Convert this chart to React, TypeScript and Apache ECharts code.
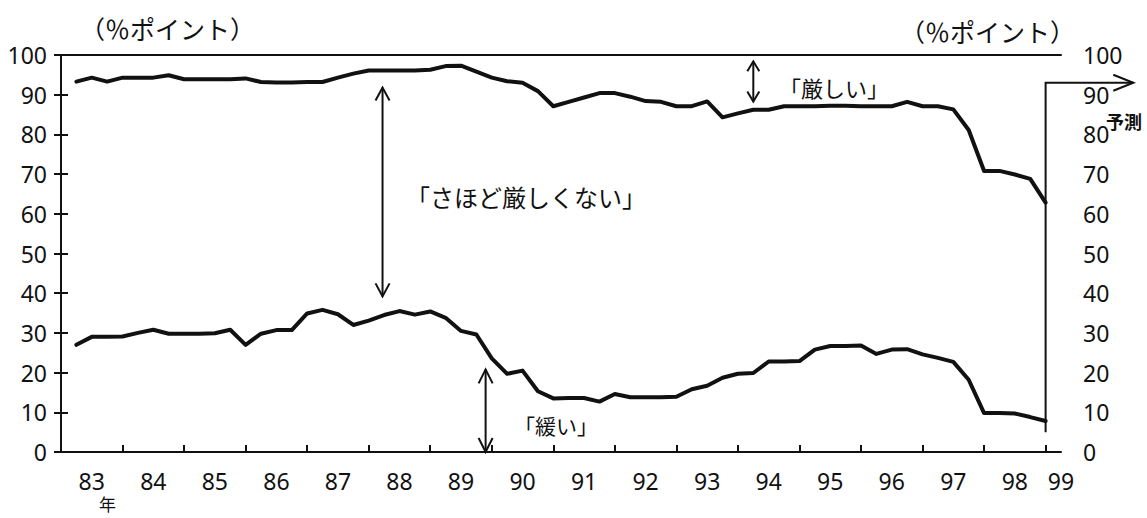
import { useEffect, useRef } from "react";
import * as echarts from "echarts";

// Quarterly survey, 1983Q1 .. 1998Q4 (64 quarters), share in %
const yearLabels = ["83", "84", "85", "86", "87", "88", "89", "90", "91", "92", "93", "94", "95", "96", "97", "98"];
const endLabel = "99";

// upper line: 100 - "厳しい"
const upperLine = [
  93.3, 94.3, 93.3, 94.3, 94.3, 94.3, 94.9, 93.9,
  93.9, 93.9, 93.9, 94.1, 93.2, 93.1, 93.1, 93.2,
  93.2, 94.3, 95.3, 96.1, 96.1, 96.1, 96.1, 96.3,
  97.2, 97.3, 95.8, 94.3, 93.4, 93.0, 90.9, 87.1,
  88.2, 89.3, 90.4, 90.4, 89.5, 88.4, 88.2, 87.1,
  87.1, 88.3, 84.3, 85.3, 86.2, 86.2, 87.1, 87.1,
  87.1, 87.2, 87.2, 87.1, 87.1, 87.1, 88.2, 87.1,
  87.1, 86.3, 81.1, 70.8, 70.8, 69.9, 68.8, 62.8,
];

// lower line: "緩い"
const lowerLine = [
  27.0, 29.0, 29.0, 29.1, 30.0, 30.8, 29.8, 29.8,
  29.8, 29.9, 30.8, 27.0, 29.8, 30.7, 30.7, 34.9,
  35.8, 34.7, 32.0, 33.1, 34.5, 35.5, 34.6, 35.4,
  33.8, 30.5, 29.6, 23.6, 19.7, 20.5, 15.3, 13.5,
  13.6, 13.6, 12.7, 14.6, 13.8, 13.8, 13.8, 13.9,
  15.8, 16.7, 18.7, 19.7, 19.9, 22.8, 22.8, 22.9,
  25.8, 26.7, 26.7, 26.8, 24.7, 25.8, 25.9, 24.6,
  23.7, 22.7, 18.2, 9.8, 9.8, 9.7, 8.8, 7.8,
];

const unitLabel = "（％ポイント）";
const labelHarsh = "「厳しい」";
const labelMid = "「さほど厳しくない」";
const labelEasy = "「緩い」";
const labelForecast = "予測";
const labelYear = "年";

const JP_FONT = "Noto Sans CJK JP";
const NUM_FONT = "Noto Sans";
const INK = "#111111";

export default function App() {
  const ref = useRef<HTMLDivElement>(null);

  useEffect(() => {
    if (!ref.current) return;
    const chart = echarts.init(ref.current, null, { renderer: "svg" });

    const nQ = upperLine.length; // 64
    const xMax = nQ + 1; // right axis sits one quarter after the last point
    const tickPos = yearLabels.map((_, i) => (i + 1) * 4);
    const labelPos = yearLabels.map((_, i) => i * 4 + 2).concat([xMax]);
    const labelText: Record<string, string> = {};
    yearLabels.forEach((y, i) => (labelText[String(i * 4 + 2)] = y));
    labelText[String(xMax)] = endLabel;

    const axisLineStyle = { color: INK, width: 2 };
    const numText = { fontSize: 23, fontFamily: NUM_FONT, color: INK };

    chart.setOption({
      animation: false,
      backgroundColor: "#ffffff",
      grid: {
        left: 61,
        right: 86,
        top: 55,
        bottom: 66,
        containLabel: false,
        outerBoundsMode: "none",
      },
      xAxis: [
        {
          type: "value",
          min: 0,
          max: xMax,
          position: "bottom",
          axisLine: { show: true, onZero: false, lineStyle: axisLineStyle },
          axisTick: {
            show: true,
            inside: true,
            length: 7,
            customValues: tickPos,
            lineStyle: { color: INK, width: 2 },
          },
          axisLabel: {
            ...numText,
            customValues: labelPos,
            formatter: (v: number) => labelText[String(v)] ?? "",
            margin: 17,
            showMinLabel: true,
            showMaxLabel: true,
            hideOverlap: false,
          },
          splitLine: { show: false },
        },
        {
          type: "value",
          min: 0,
          max: xMax,
          position: "top",
          axisLine: { show: true, onZero: false, lineStyle: axisLineStyle },
          axisTick: { show: false },
          axisLabel: { show: false },
          splitLine: { show: false },
        },
      ],
      yAxis: [
        {
          type: "value",
          min: 0,
          max: 100,
          interval: 10,
          position: "left",
          axisLine: { show: true, lineStyle: axisLineStyle },
          axisTick: { show: true, length: 7, lineStyle: { color: INK, width: 2 } },
          axisLabel: { ...numText, margin: 14 },
          splitLine: { show: false },
        },
        {
          type: "value",
          min: 0,
          max: 100,
          interval: 10,
          position: "right",
          axisLine: { show: true, lineStyle: axisLineStyle },
          axisTick: { show: true, length: 7, lineStyle: { color: INK, width: 2 } },
          axisLabel: { ...numText, margin: 22 },
          splitLine: { show: false },
        },
      ],
      series: [
        {
          type: "line",
          name: "upper",
          xAxisIndex: 0,
          yAxisIndex: 0,
          data: upperLine.map((v, i) => [i + 1, v]),
          showSymbol: false,
          symbol: "none",
          lineStyle: { color: INK, width: 4, join: "round", cap: "round" },
        },
        {
          type: "line",
          name: "lower",
          xAxisIndex: 0,
          yAxisIndex: 0,
          data: lowerLine.map((v, i) => [i + 1, v]),
          showSymbol: false,
          symbol: "none",
          lineStyle: { color: INK, width: 4, join: "round", cap: "round" },
        },
      ],
    });

    const px = (t: number, v: number) =>
      chart.convertToPixel({ xAxisIndex: 0, yAxisIndex: 0 }, [t, v]) as number[];

    const stroke = { stroke: INK, lineWidth: 2, fill: "none" };
    const vArrow = (t: number, v0: number, v1: number, hw: number, hh: number) => {
      const a = px(t, v0); // bottom
      const b = px(t, v1); // top
      return [
        { type: "line", shape: { x1: a[0], y1: a[1], x2: b[0], y2: b[1] }, style: stroke, silent: true },
        {
          type: "polyline",
          shape: { points: [[b[0] - hw, b[1] + hh], [b[0], b[1]], [b[0] + hw, b[1] + hh]] },
          style: stroke,
          silent: true,
        },
        {
          type: "polyline",
          shape: { points: [[a[0] - hw, a[1] - hh], [a[0], a[1]], [a[0] + hw, a[1] - hh]] },
          style: stroke,
          silent: true,
        },
      ];
    };

    const fcBottom = px(nQ, 5);
    const fcTop = px(nQ, 93);
    const fcRight = px(nQ + 5.7, 93);

    const txt = (text: string, x: number, y: number, size: number, weight = "normal") => ({
      type: "text",
      x,
      y,
      silent: true,
      style: {
        text,
        fill: INK,
        fontSize: size,
        fontWeight: weight,
        fontFamily: JP_FONT,
        align: "left",
        verticalAlign: "middle",
      },
    });

    chart.setOption({
      graphic: [
        ...vArrow(20.9, 39.2, 91.8, 7, 13),
        ...vArrow(45.0, 88.3, 98.4, 6, 10),
        ...vArrow(27.6, 0, 20.8, 7, 14),
        {
          type: "polyline",
          shape: { points: [[fcBottom[0], fcBottom[1]], [fcTop[0], fcTop[1]], [fcRight[0], fcRight[1]]] },
          style: stroke,
          silent: true,
        },
        {
          type: "polyline",
          shape: {
            points: [
              [fcRight[0] - 20, fcRight[1] - 8],
              [fcRight[0], fcRight[1]],
              [fcRight[0] - 20, fcRight[1] + 8],
            ],
          },
          style: stroke,
          silent: true,
        },
        txt(unitLabel, 80, 28, 25),
        txt(unitLabel, 900, 31, 25),
        txt(labelMid, 406, 196, 24),
        txt(labelHarsh, 779, 87, 22),
        txt(labelEasy, 514, 425, 21),
        txt(labelForecast, 1106, 121, 18, "bold"),
        txt(labelYear, 99, 503, 17),
      ],
    });

    return () => chart.dispose();
  }, []);

  return (
    <div
      ref={ref}
      style={{ position: "fixed", left: 0, top: 0, width: 1147, height: 518, background: "#ffffff" }}
    />
  );
}
